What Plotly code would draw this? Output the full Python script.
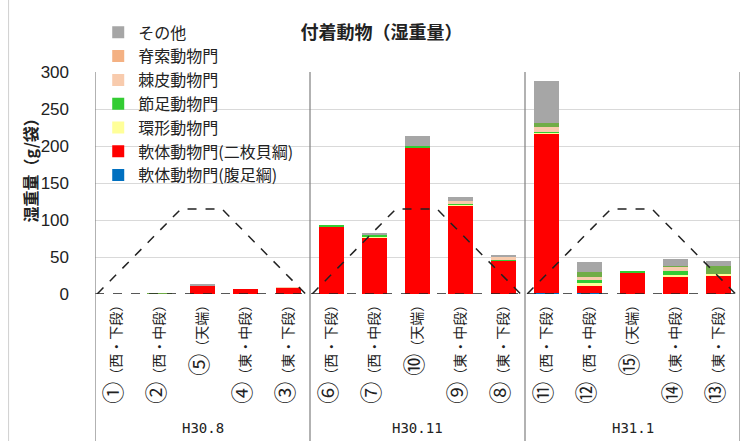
import plotly.graph_objects as go

# ---- data ----
labels = ["①（西・下段）", "②（西・中段）", "⑤（天端）", "④（東・中段）", "③（東・下段）",
          "⑥（西・下段）", "⑦（西・中段）", "⑩（天端）", "⑨（東・中段）", "⑧（東・下段）",
          "⑪（西・下段）", "⑫（西・中段）", "⑮（天端）", "⑭（東・中段）", "⑬（東・下段）"]
groups = ["H30.8", "H30.11", "H31.1"]

gastropoda = [0, 0, 0, 0, 0, 0, 0, 0, 0, 0, 1, 1, 0, 0, 0]
bivalvia = [0, 0, 11, 7, 8.5, 91, 77, 198, 119, 45, 216, 11, 28.5, 24, 25.5]
annelida = [0, 0, 0, 0, 0, 0, 1, 0, 1.5, 0, 0.8, 2.5, 0, 1.5, 1.5]
arthropoda = [0, 0, 0, 0, 0, 1.5, 1.5, 2.5, 1.5, 1.5, 1.2, 4.5, 2.5, 5.5, 0]
echinodermata = [0, 0, 0.5, 0, 0.8, 0, 0, 0, 4, 3.5, 7, 4, 0, 5.5, 0]
chordata = [0, 0, 0, 0, 0, 0, 0, 0, 0, 0, 0, 0, 0, 0, 0]
unlisted = [0, 1, 0, 0, 0, 0, 0, 0, 0, 0, 5.5, 6.5, 0, 1, 11.5]
others = [0, 0, 1.5, 0, 0, 0, 3, 13, 5.5, 3, 57, 13.5, 0, 9.5, 5.5]

# reef cross-section profile (per group, in category units) and height
profile_x = [-0.45, 1.5, 2.45, 4.4]
profile_y = [0, 115, 115, 0]

series = [
    ("軟体動物門(腹足綱)", gastropoda, "#0070C0", True),
    ("軟体動物門(二枚貝綱)", bivalvia, "#FF0000", True),
    ("環形動物門", annelida, "#FFFF99", True),
    ("節足動物門", arthropoda, "#33CC33", True),
    ("棘皮動物門", echinodermata, "#F8CBAD", True),
    ("脊索動物門", chordata, "#F4B183", True),
    ("その他の分類", unlisted, "#70AD47", False),
    ("その他", others, "#A6A6A6", True),
]

FONT = "Noto Sans CJK JP"
xs = list(range(len(labels)))
# enlarge the circled number at the start of each tick label
ticktext = ['<span style="font-size:22px">%s</span>%s' % (s[0], s[1:]) for s in labels]

fig = go.Figure()
for name, vals, color, show in series:
    fig.add_trace(go.Bar(x=xs, y=vals, name=name, marker=dict(color=color, line=dict(width=0)),
                         showlegend=show))

# dashed profile lines
px, py = [], []
for g in range(len(groups)):
    for a, b in zip(profile_x, profile_y):
        px.append(a + g * 5)
        py.append(b)
    px.append(None)
    py.append(None)
fig.add_trace(go.Scatter(x=px, y=py, mode="lines", showlegend=False, hoverinfo="skip",
                         line=dict(color="#222222", width=1.5, dash="dash")))
fig.add_trace(go.Scatter(x=[-0.5, len(labels) - 0.5], y=[0, 0], mode="lines", showlegend=False,
                         hoverinfo="skip", line=dict(color="#222222", width=1.5, dash="dash")))

# group separators
shapes = []
for g in range(len(groups) + 1):
    shapes.append(dict(type="line", xref="x", yref="paper", x0=g * 5 - 0.5, x1=g * 5 - 0.5,
                       y0=-0.67, y1=1, line=dict(color="#7f7f7f", width=1.2)))
shapes.append(dict(type="line", xref="paper", yref="paper", x0=-0.134, x1=-0.134,
                   y0=-0.67, y1=1.33, line=dict(color="#d0d0d0", width=1)))

annotations = []
for g, gname in enumerate(groups):
    annotations.append(dict(x=g * 5 + 2, y=-0.604, xref="x", yref="paper", text=gname,
                            xanchor="center", yanchor="middle", showarrow=False,
                            font=dict(size=14, color="#222", family="DejaVu Sans Mono")))
annotations.append(dict(x=-0.1, y=0.572, xref="paper", yref="paper", text="<b>湿重量（g/袋）</b>",
                        textangle=-90, showarrow=False, xanchor="center", yanchor="middle",
                        font=dict(size=16, color="#222", family=FONT)))

fig.update_layout(
    width=748, height=441,
    barmode="stack", bargap=0.4,
    margin=dict(l=95, r=8, t=72, b=147),
    paper_bgcolor="white", plot_bgcolor="white",
    font=dict(family=FONT, color="#222"),
    title=dict(text="<b>付着動物（湿重量）</b>", x=0.51, xanchor="center", y=0.925,
               yanchor="middle", font=dict(size=18, family=FONT, color="#222")),
    legend=dict(x=0.005, y=1.255, xanchor="left", yanchor="top", traceorder="reversed",
                bgcolor="rgba(0,0,0,0)", font=dict(size=16, family=FONT, color="#222"),
                itemwidth=30, tracegroupgap=0),
    shapes=shapes, annotations=annotations,
    xaxis=dict(tickmode="array", tickvals=xs, ticktext=ticktext, tickangle=-90,
               range=[-0.5, len(labels) - 0.5], showgrid=False, zeroline=False, showline=False,
               tickfont=dict(size=14, family=FONT, color="#222"), ticks=""),
    yaxis=dict(range=[0, 300], dtick=50, showgrid=True, gridcolor="#d9d9d9", gridwidth=1,
               zeroline=False, showline=False, ticklabelstandoff=25,
               tickfont=dict(size=17, family="Liberation Sans", color="#222")),
)

fig.write_html("out.html", post_script="document.body.style.margin='0px';",
               config={"displayModeBar": False})
